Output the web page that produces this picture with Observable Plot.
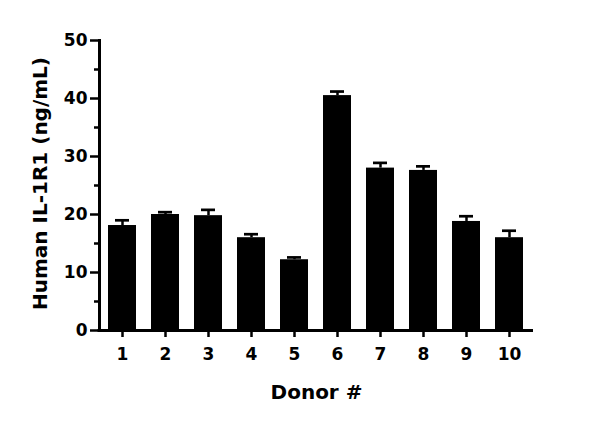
<!DOCTYPE html>
<html>
<head>
<meta charset="utf-8">
<script src="https://cdn.jsdelivr.net/npm/d3@7"></script>
<script src="https://cdn.jsdelivr.net/npm/@observablehq/plot@0.6"></script>
<style>
  html, body { margin: 0; padding: 0; background: #fff; }
</style>
</head>
<body>
<div id="chart"></div>
<script>
const donors = ["1","2","3","4","5","6","7","8","9","10"];
const means  = [18.1, 20.0, 19.8, 16.0, 12.2, 40.5, 28.0, 27.6, 18.8, 16.0];
const errors = [0.9, 0.4, 1.0, 0.6, 0.4, 0.7, 0.9, 0.7, 0.9, 1.2];
const yMajor = [0, 10, 20, 30, 40, 50];
const yMinor = [5, 15, 25, 35, 45];
const yLabel = "Human IL-1R1 (ng/mL)";
const xLabel = "Donor #";

const data = donors.map((d, i) => ({donor: d, mean: means[i], top: means[i] + errors[i]}));

const chart = Plot.plot({
  width: 600,
  height: 430,
  marginLeft: 99,
  marginRight: 67,
  marginTop: 40,
  marginBottom: 100,
  style: {fontFamily: "DejaVu Sans", fontWeight: "bold", fontSize: "17px", color: "#000", background: "#fff"},
  x: {type: "band", domain: donors, paddingInner: 0.34, paddingOuter: 0.18},
  y: {domain: [0, 50]},
  marks: [
    Plot.barY(data, {x: "donor", y: "mean", fill: "#000"}),
    Plot.ruleX(data, {x: "donor", y1: "mean", y2: "top", stroke: "#000", strokeWidth: 2.5}),
    Plot.tickY(data, {x: "donor", y: "top", stroke: "#000", strokeWidth: 2.7, insetLeft: 7, insetRight: 7}),
    Plot.axisY({ticks: yMajor, tickSize: 9, tickPadding: 3, strokeWidth: 2.5, label: null, fontSize: 17, fontWeight: "bold"}),
    Plot.axisY({ticks: yMinor, tickSize: 5, strokeWidth: 2.5, text: null, label: null}),
    Plot.axisX({tickSize: 7, tickPadding: 10, strokeWidth: 2.5, label: null, fontSize: 17, fontWeight: "bold"}),
    Plot.frame({anchor: "left", stroke: "#000", strokeWidth: 3}),
    Plot.ruleY([0], {stroke: "#000", strokeWidth: 3, insetLeft: -1.5}),
    Plot.text([yLabel], {frameAnchor: "left", textAnchor: "middle", rotate: -90, dx: -59, dy: -2, fontSize: 20, fontWeight: "bold", fill: "#000"}),
    Plot.text([xLabel], {frameAnchor: "bottom", dy: 68, fontSize: 20, fontWeight: "bold", fill: "#000"})
  ]
});
document.getElementById("chart").appendChild(chart);
</script>
</body>
</html>
